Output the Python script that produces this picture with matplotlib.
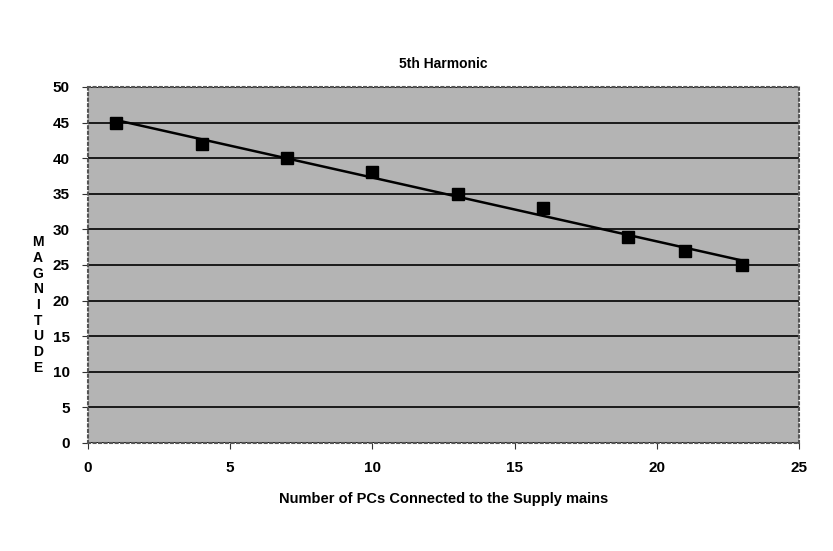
import numpy as np
import matplotlib
matplotlib.use('Agg')
import matplotlib.pyplot as plt

# data
pcs = [1, 4, 7, 10, 13, 16, 19, 21, 23]
magnitude = [45, 42, 40, 38, 35, 33, 29, 27, 25]

plt.rcParams['font.family'] = ['Liberation Sans Narrow', 'Liberation Sans', 'DejaVu Sans']
plt.rcParams['font.weight'] = 'bold'

fig = plt.figure(figsize=(8.33, 5.51), dpi=100)
ax = fig.add_axes([88 / 833, 1 - 443 / 551, (799 - 88) / 833, (443 - 87) / 551])
ax.set_facecolor('#b4b4b4')

# linear trend line
coef = np.polyfit(pcs, magnitude, 1)
xt = np.array([min(pcs), max(pcs)])
ax.plot(xt, np.polyval(coef, xt), color='black', lw=1.8, zorder=3)
ax.plot(pcs, magnitude, 's', color='black', ms=8, zorder=4)

ax.set_xlim(0, 25)
ax.set_ylim(0, 50)
ax.set_xticks(range(0, 26, 5))
ax.set_yticks(range(0, 51, 5))
ax.yaxis.grid(True, color='black', lw=1.2)
ax.set_axisbelow(True)
ax.tick_params(labelsize=11, length=4, color='#333333', pad=9)
for s in ax.spines.values():
    s.set_color('#555555')
    s.set_linestyle(':')
    s.set_linewidth(1.5)

ax.set_title('5th Harmonic', fontsize=10, fontweight='bold', pad=14)
ax.set_xlabel('Number of PCs Connected to the Supply mains', fontsize=10.5, fontweight='bold', labelpad=12)
fig.text(38 / 833, 1 - 305 / 551, '\n'.join('MAGNITUDE'), ha='center', va='center',
         fontsize=10, fontweight='bold', linespacing=1.15)

fig.savefig('out.png', dpi=100, facecolor='white')
